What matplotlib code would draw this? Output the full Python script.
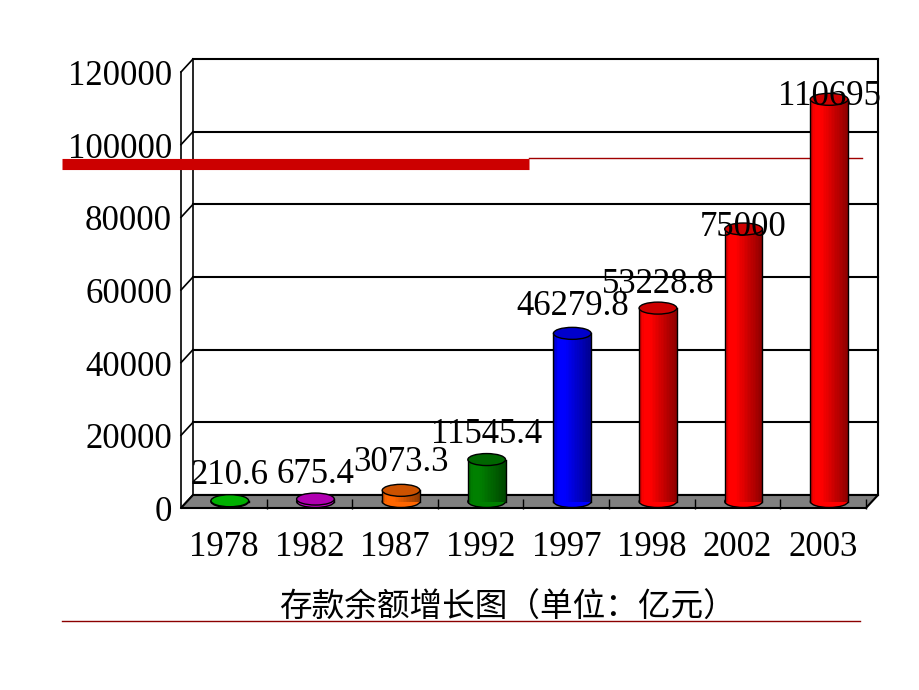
import matplotlib
matplotlib.use('Agg')
import matplotlib.pyplot as plt
import matplotlib.transforms as mtransforms
from matplotlib.patches import Ellipse, Polygon
import numpy as np

# 数据
years = ['1978', '1982', '1987', '1992', '1997', '1998', '2002', '2003']
values = [210.6, 675.4, 3073.3, 11545.4, 46279.8, 53228.8, 75000, 110695]
labels = ['210.6', '675.4', '3073.3', '11545.4', '46279.8', '53228.8', '75000', '110695']
yticks = [0, 20000, 40000, 60000, 80000, 100000, 120000]
title = '存款余额增长图（单位：亿元）'

bar_colors = ['#00cc00', '#cc00cc', '#ff6600', '#008000', '#0000ff',
              '#ff0000', '#ff0000', '#ff0000']
top_colors = ['#00b000', '#b000b0', '#cc5200', '#006600', '#0000cc',
              '#cc0000', '#cc0000', '#cc0000']
label_dy = [18, 18, 20, 18, 19, 17, 1, 2]  # 标签偏移（磅）

num_font = ['Liberation Serif', 'DejaVu Serif']

fig = plt.figure(figsize=(9.2, 6.9), dpi=100)
ax = fig.add_axes([181/920, 182/690, 685/920, 436/690])
ax.set_xlim(-0.5, 7.5)
ax.set_ylim(0, 120000)
ax.axis('off')

def shift(dx, dy):
    return ax.transData + mtransforms.ScaledTranslation(dx, dy, fig.dpi_scale_trans)

# 三维偏移（背面与中间）
back = shift(0.12, 0.13)
mid = shift(0.06, 0.065)
ident = mtransforms.IdentityTransform()

# 背墙网格线及左侧斜线
for t in yticks:
    ax.plot([-0.5, 7.5], [t, t], color='black', lw=1.5, transform=back, zorder=1, clip_on=False)
    pts = np.vstack([ax.transData.transform((-0.5, t)), back.transform((-0.5, t))])
    ax.plot(pts[:, 0], pts[:, 1], color='black', lw=1.2, transform=ident, zorder=1, clip_on=False)
    ax.text(-0.5, t, str(t), transform=shift(-0.09, -0.045),
            ha='right', va='center', fontsize=25, family=num_font)
ax.plot([-0.5, -0.5], [0, 120000], color='black', lw=1.2, zorder=1, clip_on=False)
ax.plot([-0.5, -0.5], [0, 120000], color='black', lw=1.2, transform=back, zorder=1, clip_on=False)
ax.plot([7.5, 7.5], [0, 120000], color='black', lw=1.5, transform=back, zorder=1, clip_on=False)

# 地板
f0 = ax.transData.transform([(-0.5, 0), (7.5, 0)])
f1 = back.transform([(7.5, 0), (-0.5, 0)])
floor = Polygon(np.vstack([f0, f1]), closed=True, transform=ident,
                facecolor='#808080', edgecolor='black', lw=1.5, zorder=2, clip_on=False)
ax.add_patch(floor)
ax.plot(np.arange(8) + 0.5, [0]*8, ls='none', marker='|', color='black',
        markersize=7, mew=1, transform=shift(0, 0.045), zorder=2.2, clip_on=False)

# 红色装饰线（在柱体后）
ax.plot([529/920, 862/920], [1 - 158/690, 1 - 158/690], color='#a00000', lw=1,
        transform=fig.transFigure, zorder=2.5, clip_on=False)

# 圆柱
w = 0.44
ell_h = 12 * 120000 / 436
n = 24
for i, v in enumerate(values):
    base = matplotlib.colors.to_rgb(bar_colors[i])
    xs = np.linspace(i - w/2, i + w/2, n + 1)
    for k in range(n):
        u = (k + 0.5) / n
        shade = 1.0 - 0.45 * max(0, u - 0.3) / 0.7 - 0.25 * max(0, 0.12 - u) / 0.12
        c = tuple(min(1, ch * shade) for ch in base)
        ax.bar((xs[k] + xs[k+1]) / 2, v, width=(xs[k+1] - xs[k]) * 1.02, bottom=0,
               color=c, lw=0, transform=mid, zorder=4, clip_on=False)
    ax.add_patch(Ellipse((i, 0), w, ell_h, facecolor=base,
                         edgecolor='black', lw=1, transform=mid, zorder=3.9, clip_on=False))
    ax.plot([i - w/2, i - w/2], [0, v], color='black', lw=1, transform=mid, zorder=4.1, clip_on=False)
    ax.plot([i + w/2, i + w/2], [0, v], color='black', lw=1, transform=mid, zorder=4.1, clip_on=False)
    ax.add_patch(Ellipse((i, v), w, ell_h, facecolor=top_colors[i],
                         edgecolor='black', lw=1, transform=mid, zorder=4.2, clip_on=False))
    ax.annotate(labels[i], (i, v), xycoords=mid, xytext=(0, label_dy[i]),
                textcoords='offset points', ha='center', va='center',
                fontsize=25, family=num_font, zorder=6)

# 年份
for i, yr in enumerate(years):
    ax.text(i, 0, yr, transform=shift(0, -0.39),
            ha='center', va='center', fontsize=25, family=num_font)

# 标题
fig.text(507/920, 1 - 608/690, title, ha='center', va='center', fontsize=23.5,
         family=['Noto Sans CJK SC', 'DejaVu Sans'])

# 红色粗线与底部细线
ax.plot([62/920, 529/920], [1 - 163.5/690, 1 - 163.5/690], color='#cc0000', lw=8,
        solid_capstyle='butt', transform=fig.transFigure, zorder=10, clip_on=False)
ax.plot([62/920, 860/920], [1 - 621/690, 1 - 621/690], color='#8b0000', lw=1,
        transform=fig.transFigure, zorder=10, clip_on=False)

fig.savefig('out.png', dpi=100)
